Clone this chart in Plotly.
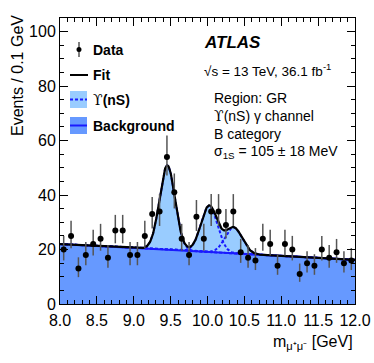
import numpy as np
import plotly.graph_objects as go

# ---- data (bin centres in GeV, event counts per 0.1 GeV) ----
mass_bins = [8.05, 8.15, 8.25, 8.35, 8.45, 8.55, 8.65, 8.75, 8.85, 8.95,
             9.05, 9.15, 9.25, 9.35, 9.45, 9.55, 9.65, 9.75, 9.85, 9.95,
             10.05, 10.15, 10.25, 10.35, 10.45, 10.55, 10.65, 10.75, 10.85, 10.95,
             11.05, 11.15, 11.25, 11.35, 11.45, 11.55, 11.65, 11.75, 11.85, 11.95]
events = [20, 25, 13, 18, 22, 24, 17, 27, 27, 18,
          18, 25, 33, 34, 54, 41, 24, 18, 32, 24,
          34, 34, 29, 34, 19, 17, 16, 24, 22, 14,
          22, 20, 11, 15, 14, 20, 17, 19, 15, 16]

# ---- fit result parameters ----
bkg_at_8 = 22.0
bkg_at_12 = 16.2
ups_means = [9.455, 10.023, 10.355]
ups_amps = [31.0, 17.0, 9.5]
ups_sigmas = [0.105, 0.111, 0.115]

x_ticks = [8.0, 8.5, 9.0, 9.5, 10.0, 10.5, 11.0, 11.5, 12.0]
x_tick_labels = ["8.0", "8.5", "9.0", "9.5", "10.0", "10.5", "11.0", "11.5", "12.0"]
y_ticks = [0, 20, 40, 60, 80, 100]

# ---- derived curves ----
ev = np.array(events, dtype=float)
err_up = np.sqrt(ev + 0.25) + 0.5
err_dn = np.sqrt(ev + 0.25) - 0.5

xs = np.linspace(8.0, 12.0, 801)
bkg = bkg_at_8 + (bkg_at_12 - bkg_at_8) * (xs - 8.0) / 4.0
comps = [a * np.exp(-0.5 * ((xs - m) / s) ** 2) for m, a, s in zip(ups_means, ups_amps, ups_sigmas)]
total = bkg + sum(comps)

LIGHT = "#99ccff"
BKGC = "#6699ff"
BLUE = "#1a1aff"

fig = go.Figure()
fig.add_trace(go.Scatter(x=xs, y=bkg, mode="lines", line=dict(width=0), fill="tozeroy",
                         fillcolor=BKGC, hoverinfo="skip", showlegend=False))
fig.add_trace(go.Scatter(x=xs, y=total, mode="lines", line=dict(width=0), fill="tonexty",
                         fillcolor=LIGHT, hoverinfo="skip", showlegend=False))
fig.add_trace(go.Scatter(x=xs, y=bkg, mode="lines", line=dict(color=BLUE, width=2),
                         hoverinfo="skip", showlegend=False))
for c in comps:
    fig.add_trace(go.Scatter(x=xs, y=bkg + c, mode="lines",
                             line=dict(color=BLUE, width=2, dash="3px,2px"),
                             hoverinfo="skip", showlegend=False))
fig.add_trace(go.Scatter(x=xs, y=total, mode="lines", line=dict(color="black", width=2.2),
                         hoverinfo="skip", showlegend=False))
fig.add_trace(go.Scatter(x=mass_bins, y=events, mode="markers",
                         marker=dict(color="black", size=6),
                         error_y=dict(type="data", symmetric=False, array=err_up, arrayminus=err_dn,
                                      color="#555555", thickness=1.5, width=0),
                         showlegend=False))

# ---- pixel -> paper helpers ----
L, R, T, B = 60, 19, 18, 59
W, H = 374, 363
PW, PH = W - L - R, H - T - B


def px(x):
    return (x - L) / PW


def py(y):
    return (H - B - y) / PH


FONT = "Liberation Sans, Arial, sans-serif"
UPS = '<span style="font-family:DejaVu Serif;font-weight:normal">ϒ</span>'
shapes = []
annotations = []

shapes.append(dict(type="line", xref="paper", yref="paper", x0=px(79), x1=px(79), y0=py(42), y1=py(57),
                   line=dict(color="#555555", width=1.5)))
shapes.append(dict(type="circle", xref="paper", yref="paper", x0=px(76.5), x1=px(81.5), y0=py(52), y1=py(47),
                   fillcolor="black", line=dict(color="black", width=0)))
shapes.append(dict(type="line", xref="paper", yref="paper", x0=px(70), x1=px(88), y0=py(75), y1=py(75),
                   line=dict(color="black", width=2)))
shapes.append(dict(type="rect", xref="paper", yref="paper", x0=px(70), x1=px(87), y0=py(108), y1=py(91),
                   fillcolor=LIGHT, line=dict(width=0)))
shapes.append(dict(type="line", xref="paper", yref="paper", x0=px(70), x1=px(87), y0=py(99.5), y1=py(99.5),
                   line=dict(color=BLUE, width=2, dash="3px,2px")))
shapes.append(dict(type="rect", xref="paper", yref="paper", x0=px(70), x1=px(87), y0=py(134), y1=py(117),
                   fillcolor=BKGC, line=dict(width=0)))
shapes.append(dict(type="line", xref="paper", yref="paper", x0=px(70), x1=px(87), y0=py(125.5), y1=py(125.5),
                   line=dict(color=BLUE, width=2)))


def txt(x, y, s, size=14, **kw):
    annotations.append(dict(x=px(x), y=py(y), xref="paper", yref="paper", text=s, showarrow=False,
                            xanchor=kw.pop("xanchor", "left"), yanchor=kw.pop("yanchor", "middle"),
                            font=dict(family=FONT, size=size, color="black"), **kw))


txt(91, 50, "<b>Data</b>")
txt(91, 75, "<b>Fit</b>")
txt(91, 100, UPS + "<b>(nS)</b>")
txt(91, 126, "<b>Background</b>")

txt(202, 42, "<b><i>ATLAS</i></b>", size=17)
txt(202, 70, "√s = 13 TeV, 36.1 fb<sup>-1</sup>", size=13.5)
txt(212, 98, "Region: GR", size=14)
txt(212, 116, UPS + "(nS) γ channel", size=14)
txt(212, 134, "B category", size=14)
txt(212, 152, "σ<sub>1S</sub> = 105 ± 18 MeV", size=14)

txt(355, 343, "m<sub>μ⁺μ⁻</sub> [GeV]", size=16, xanchor="right")
annotations.append(dict(x=px(17), y=py(76), xref="paper", yref="paper", text="Events / 0.1 GeV",
                        showarrow=False, textangle=-90, xanchor="center", yanchor="middle",
                        font=dict(family=FONT, size=16, color="black")))

fig.update_layout(
    template="none",
    width=W, height=H, autosize=False,
    margin=dict(l=L, r=R, t=T, b=B, pad=0, autoexpand=False),
    paper_bgcolor="white", plot_bgcolor="white",
    font=dict(family=FONT, size=16, color="black"),
    shapes=shapes, annotations=annotations,
    showlegend=False,
)
fig.update_xaxes(range=[8.0, 12.0], tickvals=x_ticks, ticktext=x_tick_labels, automargin=False,
                 ticks="inside", ticklen=8, tickcolor="black", tickwidth=1,
                 minor=dict(dtick=0.1, tick0=8.0, ticks="inside", ticklen=4, tickcolor="black"),
                 showline=True, linecolor="black", linewidth=1, mirror="ticks",
                 showgrid=False, zeroline=False, tickfont=dict(size=16), ticklabelstandoff=2)
fig.update_yaxes(range=[0, 105], tickvals=y_ticks, automargin=False,
                 ticks="inside", ticklen=8, tickcolor="black", tickwidth=1,
                 minor=dict(dtick=5, tick0=0, ticks="inside", ticklen=4, tickcolor="black"),
                 showline=True, linecolor="black", linewidth=1, mirror="ticks",
                 showgrid=False, zeroline=False, tickfont=dict(size=16))

fig.write_html("out.html", config={"displayModeBar": False},
               post_script="document.body.style.margin='0';")
